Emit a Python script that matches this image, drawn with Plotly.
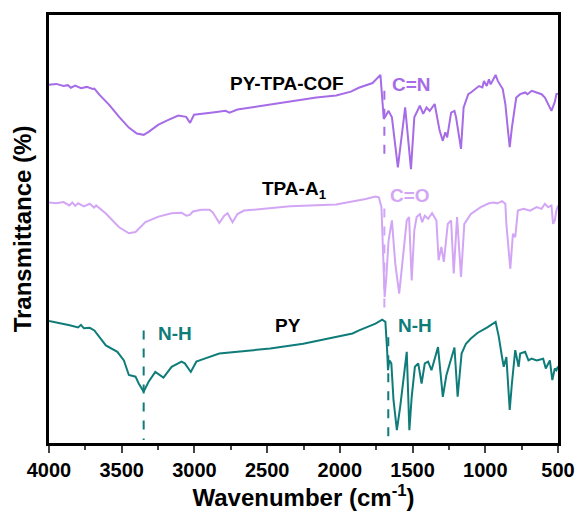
import plotly.graph_objects as go

# ---------------- data ----------------
cof_wn = [4000, 3950, 3900, 3870, 3850, 3820, 3780, 3740, 3700, 3688, 3654, 3586, 3518, 3451, 3396, 3349,
          3315, 3247, 3179, 3111, 3057, 3030, 3003,
          2942, 2874, 2786, 2759, 2704, 2569, 2297, 2162, 2026, 1924, 1870, 1775, 1721, 1698, 1665, 1642,
          1601, 1551, 1511, 1488, 1450, 1427, 1404, 1382, 1348, 1314, 1292, 1275, 1262, 1235, 1212, 1201,
          1167, 1149, 1117, 1099, 1043, 1020, 1009, 990, 975, 963, 929, 914, 880, 862, 846, 832, 817, 787,
          760, 726, 710, 681, 647, 613, 590, 545, 522, 511, 500]
cof_t = [83.7, 83.9, 83.4, 83.6, 83.0, 83.5, 82.9, 83.2, 82.7, 82.8, 81.4, 79.0, 76.2, 73.7, 72.3, 72.0,
         72.7, 74.4, 75.5, 76.5, 76.2, 74.8, 76.7,
         76.9, 77.2, 77.6, 77.2, 77.9, 78.6, 80.0, 80.7, 81.2, 82.1, 83.0, 84.1, 86.0, 75.7, 77.6, 76.1,
         64.4, 78.4, 64.0, 76.1, 78.8, 76.9, 78.4, 77.6, 79.2, 73.0, 70.6, 72.6, 71.4, 77.2, 77.6, 76.1,
         68.7, 78.4, 81.5, 81.9, 83.4, 83.1, 84.6, 83.4, 85.0, 83.8, 86.0, 84.6, 82.7, 79.2, 73.7, 69.1, 73.7, 80.7,
         81.5, 81.9, 81.5, 82.3, 81.9, 81.5, 80.7, 77.6, 79.7, 81.5, 81.6]

tpa_wn = [4000, 3950, 3900, 3860, 3840, 3820, 3800, 3760, 3720, 3690, 3676, 3609, 3518, 3451, 3405, 3337,
          3247, 3157, 3089, 3055, 3032, 3010, 2953, 2896, 2874,
          2829, 2795, 2772, 2738, 2704, 2659, 2479, 2343, 2026, 1936, 1823, 1755, 1732, 1714, 1705, 1698,
          1692, 1682, 1665, 1642, 1619, 1592, 1570, 1540, 1524, 1506, 1488, 1472, 1450, 1434, 1416, 1393,
          1366, 1336, 1321, 1302, 1285, 1258, 1235, 1217, 1194, 1167, 1144, 1099, 1031, 975, 941, 918, 885,
          862, 855, 839, 828, 810, 794, 776, 737, 692, 647, 613, 590, 568, 545, 534, 522, 511, 500]
tpa_t = [56.2, 56.0, 56.3, 55.5, 56.2, 55.4, 56.0, 55.3, 55.9, 55.0, 55.5, 53.6, 50.4, 49.0, 49.3, 51.6,
         52.9, 53.7, 53.8, 53.1, 53.3, 54.1, 54.5, 54.5, 53.9,
         51.4, 53.1, 53.7, 51.6, 53.5, 54.3, 54.9, 55.3, 55.7, 56.2, 57.0, 57.6, 57.4, 55.1, 45.8, 38.0,
         34.1, 38.0, 47.3, 52.0, 41.9, 34.9, 41.9, 52.0, 52.8, 38.0, 49.7, 52.8, 53.5, 51.6, 53.1, 52.4,
         53.7, 52.0, 42.7, 45.8, 42.3, 51.2, 52.0, 39.6, 52.8, 38.8, 51.2, 53.5, 55.1, 56.0, 56.2, 56.0, 56.5,
         55.9, 51.2, 45.8, 40.7, 48.9, 48.1, 54.3, 54.7, 54.3, 55.1, 54.7, 55.9, 55.1, 55.5, 51.2, 52.0, 54.3, 55.5]

py_wn = [4000, 3900, 3858, 3800, 3780, 3760, 3720, 3688, 3643, 3609, 3530, 3485, 3451, 3405, 3383, 3349,
         3315, 3269, 3213, 3157, 3089,
         3066, 3025, 2987, 2930, 2829, 2704, 2479, 2252, 2026, 1913, 1868, 1755, 1709, 1687, 1675, 1669,
         1660, 1646, 1631, 1608, 1585, 1540, 1522, 1506, 1484, 1461, 1438, 1416, 1393, 1370, 1325, 1292,
         1267, 1212, 1190, 1163, 1133, 1099, 1054, 986, 929, 907, 885, 873, 855, 832, 817, 794, 771, 760,
         726, 703, 681, 647, 602, 584, 556, 539, 522, 511, 500]
py_t = [28.5, 27.9, 27.5, 27.0, 27.6, 26.8, 26.9, 26.3, 24.4, 22.8, 21.3, 19.3, 15.9, 15.5, 13.9, 12.0,
        14.3, 16.6, 15.3, 17.8, 19.0,
        18.6, 16.6, 19.0, 19.7, 20.9, 21.3, 22.1, 23.2, 24.8, 25.6, 26.3, 27.9, 28.8, 28.3, 21.7, 17.0,
        19.3, 18.6, 10.0, 3.0, 8.5, 21.3, 3.0, 10.8, 17.8, 18.6, 13.9, 18.6, 19.0, 17.0, 22.4, 10.8,
        15.9, 22.3, 10.8, 20.9, 23.2, 24.4, 25.7, 27.0, 28.3, 24.8, 20.1, 17.8, 20.1, 7.7, 13.9, 21.7, 17.8, 20.9,
        21.3, 19.3, 19.7, 19.3, 19.7, 17.4, 19.3, 14.7, 17.4, 17.0, 17.9]

x_ticks = [4000, 3500, 3000, 2500, 2000, 1500, 1000, 500]

# marker lines: (wavenumber, T start, T end)
cn_line = (1694, 82.3, 66.7)
co_line = (1694, 54.8, 31.0)
nh_line1 = (3349, 26.3, 0.7)
nh_line2 = (1667, 24.7, 0.0)

# ---------------- style ----------------
C_COF = "#a66be6"
C_TPA = "#d3a6f5"
C_PY = "#0f7c79"
FONT = "Liberation Sans, Arial, sans-serif"

fig = go.Figure()
for wn, t, c in [(cof_wn, cof_t, C_COF), (tpa_wn, tpa_t, C_TPA), (py_wn, py_t, C_PY)]:
    fig.add_trace(go.Scatter(x=wn, y=t, mode="lines", line=dict(color=c, width=2), showlegend=False,
                             hoverinfo="skip"))

for (x0, y0, y1), c in [(cn_line, C_COF), (co_line, C_TPA), (nh_line1, C_PY), (nh_line2, C_PY)]:
    fig.add_shape(type="line", x0=x0, x1=x0, y0=y0, y1=y1, xref="x", yref="y",
                  line=dict(color=c, width=2, dash="dash"))

def ann(text, x, y, color, xanchor="center"):
    fig.add_annotation(x=x, y=y, text=text, showarrow=False, xanchor=xanchor, yanchor="middle",
                       font=dict(family=FONT, size=19, color=color, weight="bold"))

ann("PY-TPA-COF", 2365, 83.9, "black")
ann("TPA-A<sub>1</sub>", 2311, 59.0, "black")
ann("PY", 2359, 27.5, "black")
ann("C=N", 1653, 83.7, C_COF, "left")
ann("C=O", 1667, 57.8, C_TPA, "left")
ann("N-H", 3267, 25.6, C_PY, "left")
ann("N-H", 1612, 27.5, C_PY, "left")

fig.update_layout(
    width=587, height=512,
    margin=dict(l=49, r=22, t=14, b=69),
    plot_bgcolor="white", paper_bgcolor="white",
    font=dict(family=FONT, color="black"),
)
fig.update_xaxes(
    range=[4000, 500], tickvals=x_ticks, ticks="outside", ticklen=7, tickwidth=2,
    minor=dict(dtick=250, ticks="outside", ticklen=4, tickwidth=2),
    showline=True, linewidth=2.5, linecolor="black", mirror=True, showgrid=False, zeroline=False,
    tickfont=dict(family=FONT, size=20, weight="bold"),
    title=dict(text="Wavenumber (cm<sup>-1</sup>)", font=dict(family=FONT, size=24, weight="bold"),
               standoff=2),
)
fig.update_yaxes(
    range=[0, 100], showticklabels=False, ticks="", showline=True, linewidth=2.5, linecolor="black",
    mirror=True, showgrid=False, zeroline=False,
    title=dict(text="Transmittance (%)", font=dict(family=FONT, size=24, weight="bold"), standoff=8),
)

fig.write_html("out.html")
